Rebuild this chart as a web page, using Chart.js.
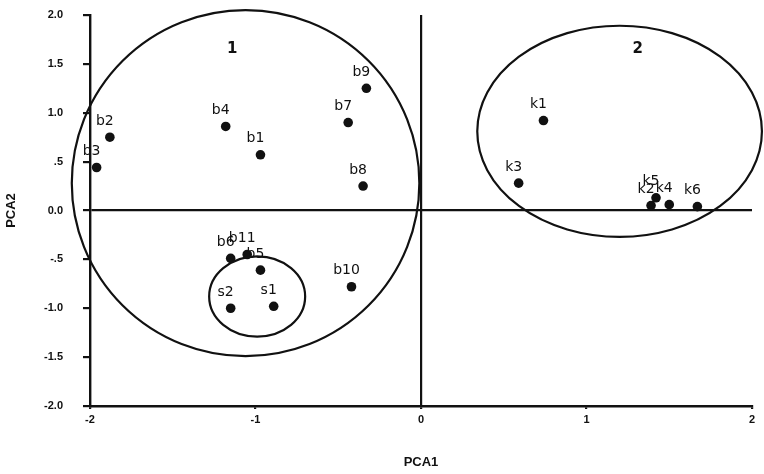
<!DOCTYPE html>
<html>
<head>
<meta charset="utf-8">
<title>PCA scatter</title>
<script src="https://cdn.jsdelivr.net/npm/chart.js"></script>
<style>
  html, body { margin: 0; padding: 0; background: #fff; }
  #chart { display: block; }
</style>
</head>
<body>
<canvas id="chart" width="764" height="474"></canvas>
<script>
// Samples and their scores on the first two principal components
const sampleNames = ['b1', 'b2', 'b3', 'b4', 'b5', 'b6', 'b7', 'b8', 'b9', 'b10', 'b11',
                     's1', 's2', 'k1', 'k2', 'k3', 'k4', 'k5', 'k6'];
const pca1Scores = [-0.97, -1.88, -1.96, -1.18, -0.97, -1.15, -0.44, -0.35, -0.33, -0.42, -1.05,
                    -0.89, -1.15, 0.74, 1.39, 0.59, 1.50, 1.42, 1.67];
const pca2Scores = [0.57, 0.75, 0.44, 0.86, -0.61, -0.49, 0.90, 0.25, 1.25, -0.78, -0.45,
                    -0.98, -1.00, 0.92, 0.05, 0.28, 0.06, 0.13, 0.04];

// Tick labels as printed on the axes
const xTickValues = [-2, -1, 0, 1, 2];
const xTickLabels = ['-2', '-1', '0', '1', '2'];
const yTickValues = [-2, -1.5, -1, -0.5, 0, 0.5, 1, 1.5, 2];
const yTickLabels = ['-2.0', '-1.5', '-1.0', '-.5', '0.0', '.5', '1.0', '1.5', '2.0'];

// Group ellipses (centre and half-axes, in PCA units)
const groupCentreX = [-1.06, 1.20, -0.99];
const groupCentreY = [0.28, 0.81, -0.88];
const groupRadiusX = [1.05, 0.86, 0.29];
const groupRadiusY = [1.77, 1.08, 0.41];

// Group numbers written inside the two big ellipses
const groupNames = ['1', '2'];
const groupNameX = [-1.14, 1.31];
const groupNameY = [1.65, 1.65];

const INK = '#111';

const annotations = {
  id: 'annotations',
  afterDatasetsDraw(chart) {
    const { ctx, scales: { x, y } } = chart;
    ctx.save();

    // ellipses, not clipped: group 2 runs past the right end of the axis
    ctx.strokeStyle = INK;
    ctx.lineWidth = 2.2;
    groupCentreX.forEach((cx, i) => {
      const px = x.getPixelForValue(cx);
      const py = y.getPixelForValue(groupCentreY[i]);
      const rx = Math.abs(x.getPixelForValue(cx + groupRadiusX[i]) - px);
      const ry = Math.abs(y.getPixelForValue(groupCentreY[i] + groupRadiusY[i]) - py);
      ctx.beginPath();
      ctx.ellipse(px, py, rx, ry, 0, 0, Math.PI * 2);
      ctx.stroke();
    });

    // point names
    ctx.fillStyle = INK;
    ctx.font = '14px "DejaVu Sans", sans-serif';
    ctx.textAlign = 'center';
    ctx.textBaseline = 'middle';
    chart.getDatasetMeta(0).data.forEach((pt, i) => {
      ctx.fillText(sampleNames[i], pt.x - 5, pt.y - 16);
    });

    // group numbers
    ctx.font = 'bold 15px "DejaVu Sans", sans-serif';
    groupNames.forEach((name, i) => {
      ctx.fillText(name, x.getPixelForValue(groupNameX[i]), y.getPixelForValue(groupNameY[i]));
    });

    ctx.restore();
  }
};

const tickFont = { family: '"Liberation Sans", Arial, sans-serif', size: 11, weight: 'bold' };
const titleFont = { family: '"Liberation Sans", Arial, sans-serif', size: 13, weight: 'bold' };

// only the zero line is drawn across the plot, others just leave a tick mark
const zeroLine = ctx => (ctx.tick && ctx.tick.value === 0 ? INK : 'rgba(0,0,0,0)');

new Chart(document.getElementById('chart').getContext('2d'), {
  type: 'scatter',
  data: {
    datasets: [{
      data: pca1Scores.map((v, i) => ({ x: v, y: pca2Scores[i] })),
      backgroundColor: INK,
      borderWidth: 0,
      pointRadius: 4.8,
      pointHoverRadius: 4.8
    }]
  },
  options: {
    responsive: false,
    animation: false,
    layout: { padding: { top: 15, right: 12, left: 0, bottom: 0 } },
    plugins: { legend: { display: false }, tooltip: { enabled: false } },
    scales: {
      x: {
        type: 'linear',
        min: -2,
        max: 2,
        afterFit: s => { s.height = 68; s.paddingLeft = 0; s.paddingRight = 0; },
        afterBuildTicks: s => { s.ticks = xTickValues.map(v => ({ value: v })); },
        ticks: {
          color: INK,
          font: tickFont,
          padding: 4,
          callback: v => xTickLabels[xTickValues.indexOf(v)]
        },
        grid: { color: zeroLine, tickColor: INK, lineWidth: 2.2, tickLength: 3 },
        border: { color: INK, width: 2.4 },
        title: { display: true, text: 'PCA1', color: INK, font: titleFont, padding: { top: 4, bottom: 4 } }
      },
      y: {
        type: 'linear',
        min: -2,
        max: 2,
        afterFit: s => { s.width = 90; s.paddingTop = 0; s.paddingBottom = 0; },
        afterBuildTicks: s => { s.ticks = yTickValues.map(v => ({ value: v })); },
        ticks: {
          color: INK,
          font: tickFont,
          padding: 20,
          callback: v => yTickLabels[yTickValues.indexOf(v)]
        },
        grid: { color: zeroLine, tickColor: INK, lineWidth: 2.2, tickLength: 7 },
        border: { color: INK, width: 2.4 },
        title: { display: true, text: 'PCA2', color: INK, font: titleFont, padding: { top: 4, bottom: 4 } }
      }
    }
  },
  plugins: [annotations]
});
</script>
</body>
</html>
